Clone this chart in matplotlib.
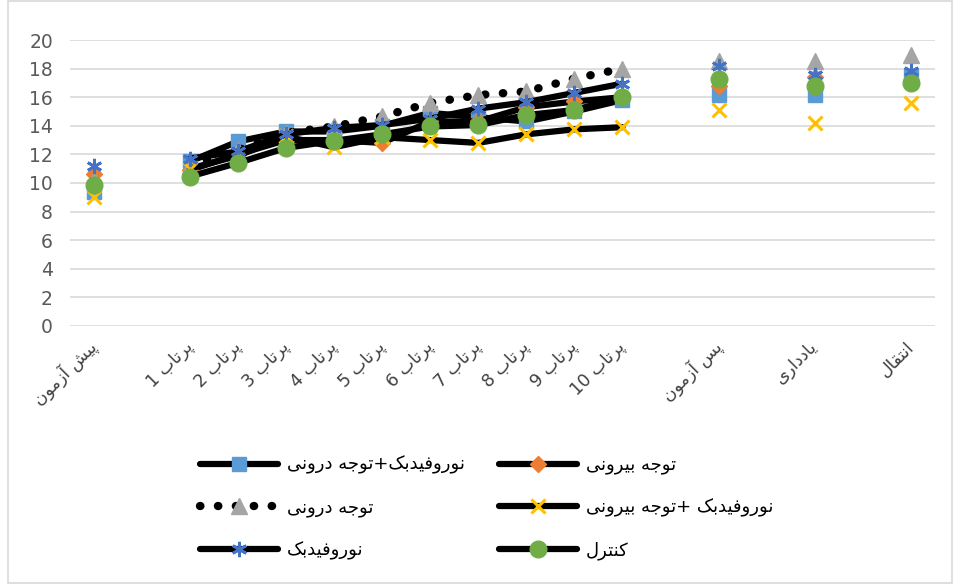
# نمودار خطی میانگین نمرات گروه‌ها در مراحل آزمون

import re
import numpy as np
import matplotlib
matplotlib.use('Agg')
import matplotlib.pyplot as plt
from matplotlib.patches import Rectangle

# دسته‌ها (خانه‌های خالی فاصله‌ی بین مراحل هستند)
CATEGORIES = ['پیش آزمون', '',
              'پرتاب 1', 'پرتاب 2', 'پرتاب 3', 'پرتاب 4', 'پرتاب 5',
              'پرتاب 6', 'پرتاب 7', 'پرتاب 8', 'پرتاب 9', 'پرتاب 10', '',
              'پس آزمون', '', 'یادداری', '', 'انتقال']

N = np.nan
NF_INT = [9.4, N, 11.5, 12.9, 13.6, 13.6, 14.0, 14.9, 14.6, 14.3, 15.0, 15.8, N, 16.15, N, 16.15, N, 17.45]
EXT = [10.6, N, 10.9, 12.0, 13.0, 13.0, 12.8, 14.3, 14.3, 15.3, 15.7, 16.0, N, 16.75, N, 17.4, N, 17.2]
INT = [10.2, N, 11.2, 12.3, 13.5, 13.95, 14.65, 15.6, 16.15, 16.4, 17.3, 18.0, N, 18.5, N, 18.5, N, 18.95]
NF_EXT = [9.05, N, 11.0, 11.9, 13.25, 12.5, 13.2, 13.0, 12.8, 13.4, 13.75, 13.9, N, 15.1, N, 14.2, N, 15.6]
NF = [11.2, N, 11.7, 12.2, 13.4, 13.85, 14.05, 14.5, 15.2, 15.65, 16.3, 16.95, N, 18.15, N, 17.55, N, 17.8]
CONTROL = [9.85, N, 10.45, 11.4, 12.45, 12.95, 13.4, 13.95, 14.05, 14.75, 15.1, 16.0, N, 17.25, N, 16.75, N, 17.0]

LABELS = ['نوروفیدبک+توجه درونی', 'توجه بیرونی', 'توجه درونی',
          'نوروفیدبک +توجه بیرونی', 'نوروفیدبک', 'کنترل']

# شکل‌دهی حروف فارسی (matplotlib خودش حروف را به هم نمی‌چسباند)
FORMS = {
    'ا': ('\uFE8D', '\uFE8E', None, None),
    'آ': ('\uFE81', '\uFE82', None, None),
    'ب': ('\uFE8F', '\uFE90', '\uFE91', '\uFE92'),
    'پ': ('\uFB56', '\uFB57', '\uFB58', '\uFB59'),
    'ت': ('\uFE95', '\uFE96', '\uFE97', '\uFE98'),
    'ج': ('\uFE9D', '\uFE9E', '\uFE9F', '\uFEA0'),
    'د': ('\uFEA9', '\uFEAA', None, None),
    'ر': ('\uFEAD', '\uFEAE', None, None),
    'ز': ('\uFEAF', '\uFEB0', None, None),
    'س': ('\uFEB1', '\uFEB2', '\uFEB3', '\uFEB4'),
    'ش': ('\uFEB5', '\uFEB6', '\uFEB7', '\uFEB8'),
    'ف': ('\uFED1', '\uFED2', '\uFED3', '\uFED4'),
    'ق': ('\uFED5', '\uFED6', '\uFED7', '\uFED8'),
    'ک': ('\uFB8E', '\uFB8F', '\uFB90', '\uFB91'),
    'ل': ('\uFEDD', '\uFEDE', '\uFEDF', '\uFEE0'),
    'م': ('\uFEE1', '\uFEE2', '\uFEE3', '\uFEE4'),
    'ن': ('\uFEE5', '\uFEE6', '\uFEE7', '\uFEE8'),
    'ه': ('\uFEE9', '\uFEEA', '\uFEEB', '\uFEEC'),
    'و': ('\uFEED', '\uFEEE', None, None),
    'ی': ('\uFBFC', '\uFBFD', '\uFBFE', '\uFBFF'),
}


def fa(s):
    out = []
    for i, ch in enumerate(s):
        if ch not in FORMS:
            out.append(ch)
            continue
        iso, fin, ini, med = FORMS[ch]
        prev = s[i - 1] if i > 0 else ''
        nxt = s[i + 1] if i + 1 < len(s) else ''
        jp = prev in FORMS and FORMS[prev][2] is not None
        jn = nxt in FORMS and ini is not None
        if jp and jn:
            out.append(med)
        elif jp:
            out.append(fin)
        elif jn:
            out.append(ini)
        else:
            out.append(iso)
    runs = re.findall(r'\d+|\D', ''.join(out))
    return ''.join(reversed(runs))


plt.rcParams['font.family'] = ['DejaVu Sans']

fig = plt.figure(figsize=(9.54, 5.84), dpi=100)
ax = fig.add_axes([0.073, 0.442, 0.907, 0.4895])

x = np.arange(len(CATEGORIES))
styles = [
    dict(marker='s', color='#5B9BD5', ms=10),
    dict(marker='D', color='#ED7D31', ms=8),
    dict(marker='^', color='#A5A5A5', ms=11),
    dict(marker='x', color='#FFC000', ms=10, mew=2.2),
    dict(marker=(6, 2, 0), color='#4472C4', ms=11, mew=2),
    dict(marker='o', color='#70AD47', ms=12),
]
series = [NF_INT, EXT, INT, NF_EXT, NF, CONTROL]

handles = []
for vals, st, lab in zip(series, styles, LABELS):
    dotted = lab == 'توجه درونی'
    ls = (0, (0.05, 2.1)) if dotted else '-'
    h, = ax.plot(x, vals, color='black', lw=6 if dotted else 4.5, linestyle=ls,
                 dash_capstyle='round', solid_capstyle='round',
                 marker=st['marker'], ms=st['ms'], mfc=st['color'],
                 mec=st['color'], mew=st.get('mew', 1), label=fa(lab))
    handles.append(h)

ax.set_xlim(-0.5, len(CATEGORIES) - 0.5)
ax.set_ylim(0, 20)
ax.set_yticks(range(0, 21, 2))
ax.grid(axis='y', color='#D9D9D9', lw=1.2)
ax.set_axisbelow(True)
for sp in ax.spines.values():
    sp.set_visible(False)

ax.set_xticks(x)
ax.set_xticklabels([fa(c) for c in CATEGORIES], rotation=45, ha='right',
                   va='center', rotation_mode='anchor', fontsize=12.5, color='#404040')
ax.tick_params(axis='x', length=0, pad=13)
ax.tick_params(axis='y', length=0, labelsize=13.5, labelcolor='#595959', pad=12)

# ترتیب راهنما مثل اکسل (سطری)
order = [0, 2, 4, 1, 3, 5]
fig.legend([handles[i] for i in order], [handles[i].get_label() for i in order],
           ncol=2, loc='center', bbox_to_anchor=(0.51, 0.13), frameon=False,
           handlelength=4.3, handletextpad=0.5, labelspacing=1.35,
           columnspacing=1.9, fontsize=13)

fig.patches.append(Rectangle((0.008, 0.002), 0.99, 0.996, transform=fig.transFigure,
                             fill=False, edgecolor='#D9D9D9', lw=1.2))

fig.savefig('out.png', dpi=100)
